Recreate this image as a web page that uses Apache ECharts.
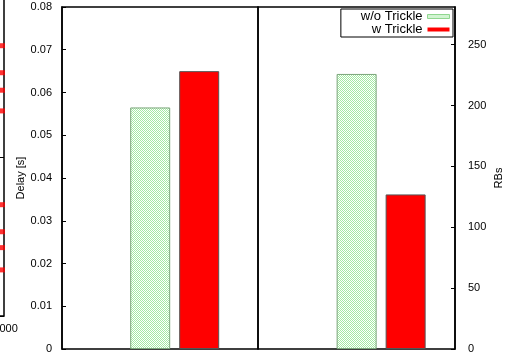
<!DOCTYPE html>
<html>
<head>
<meta charset="utf-8">
<script src="https://cdn.jsdelivr.net/npm/echarts@6/dist/echarts.min.js"></script>
<style>
  html, body { margin: 0; padding: 0; background: #fff; }
  #chart { width: 528px; height: 364px; }
</style>
</head>
<body>
<div id="chart"></div>
<script>
// ---- data ----
const seriesNames = ['w/o Trickle', 'w Trickle'];
const delaySec = [0.0565, 0.065];      // Delay [s], left panel
const rbsCount = [226, 127];           // RBs, right panel
const delayAxis = { min: 0, max: 0.08, interval: 0.01 };
const rbsAxis = { min: 0, max: 281, interval: 50 };
// edge of the neighbouring panel (points near its x = 1000 end)
const sideX = [990, 990, 990, 990, 990, 990, 990, 990];
const sideY = [1.70, 1.53, 1.42, 1.29, 0.70, 0.53, 0.43, 0.29];

// ---- styling ----
const FONT = '"Liberation Sans", Arial, Helvetica, sans-serif';
const RED = '#ff0000';

function checkerGreen() {
  const c = document.createElement('canvas');
  c.width = 4; c.height = 4;
  const g = c.getContext('2d');
  g.fillStyle = '#ffffff';
  g.fillRect(0, 0, 4, 4);
  g.fillStyle = '#a4eaa4';
  for (let y = 0; y < 4; y++) {
    for (let x = 0; x < 4; x++) {
      if ((x + y) % 2 === 0) g.fillRect(x, y, 1, 1);
    }
  }
  return c;
}
const greenFill = { image: checkerGreen(), repeat: 'repeat' };
const greenStyle = { color: greenFill, borderColor: '#7aa57a', borderWidth: 1 };
const redStyle = { color: RED, borderColor: '#555555', borderWidth: 1 };

const labelStyle = { fontFamily: FONT, fontSize: 11, color: '#000' };
const frame = { show: true, borderColor: '#000', borderWidth: 1.5, backgroundColor: 'transparent' };

const chart = echarts.init(document.getElementById('chart'), null, { renderer: 'canvas' });

chart.setOption({
  animation: false,
  backgroundColor: '#fff',
  grid: [
    Object.assign({ left: 62, top: 7, width: 196, height: 342, outerBoundsMode: 'none' }, frame),
    Object.assign({ left: 258, top: 7, width: 197, height: 342, outerBoundsMode: 'none' }, frame),
    Object.assign({ left: -200, top: -2, width: 204, height: 318, outerBoundsMode: 'none' }, frame)
  ],
  xAxis: [
    // bar groups sit at x = 0 in each panel
    { gridIndex: 0, type: 'value', min: -2.3, max: 1.7, show: false },
    { gridIndex: 1, type: 'value', min: -2.5, max: 1.5, show: false },
    {
      gridIndex: 2, type: 'value', min: 0, max: 1000, interval: 500,
      axisLine: { show: false }, axisTick: { show: false }, splitLine: { show: false },
      axisLabel: Object.assign({ margin: 7 }, labelStyle)
    }
  ],
  yAxis: [
    {
      gridIndex: 0, type: 'value', position: 'left',
      min: delayAxis.min, max: delayAxis.max, interval: delayAxis.interval,
      axisLine: { show: true, onZero: false, lineStyle: { color: '#000', width: 1.5 } },
      axisTick: { show: true, inside: true, length: 4, lineStyle: { color: '#000' } },
      axisLabel: Object.assign({ margin: 10 }, labelStyle),
      splitLine: { show: false },
      name: 'Delay [s]', nameLocation: 'middle', nameRotate: 90, nameGap: 31,
      nameTextStyle: labelStyle
    },
    {
      gridIndex: 1, type: 'value', position: 'right',
      min: rbsAxis.min, max: rbsAxis.max, interval: rbsAxis.interval,
      axisLine: { show: true, onZero: false, lineStyle: { color: '#000', width: 1.5 } },
      axisTick: { show: true, inside: true, length: 4, lineStyle: { color: '#000' } },
      axisLabel: Object.assign({ margin: 13, showMaxLabel: false }, labelStyle),
      splitLine: { show: false },
      name: 'RBs', nameLocation: 'middle', nameRotate: 90, nameGap: 38,
      nameTextStyle: labelStyle
    },
    {
      gridIndex: 2, type: 'value', position: 'right', min: 0, max: 2, interval: 1,
      axisLine: { show: false, onZero: false },
      axisTick: { show: true, inside: true, length: 4, lineStyle: { color: '#000' } },
      axisLabel: { show: false },
      splitLine: { show: false }
    }
  ],
  legend: {
    data: [
      { name: seriesNames[0], itemStyle: { borderColor: '#8fd68f', borderWidth: 1 } },
      { name: seriesNames[1], itemStyle: { borderWidth: 0 } }
    ],
    orient: 'vertical', align: 'right', icon: 'rect',
    right: 75, top: 9,
    itemWidth: 22, itemHeight: 4, itemGap: 0,
    padding: [1, 3, 1, 20],
    borderColor: '#000', borderWidth: 1,
    selectedMode: false,
    textStyle: { fontFamily: FONT, fontSize: 13, color: '#000', lineHeight: 12 }
  },
  series: [
    {
      name: seriesNames[0], type: 'bar', xAxisIndex: 0, yAxisIndex: 0,
      barWidth: 40, barGap: '22.5%', itemStyle: greenStyle,
      data: [[0, delaySec[0]]]
    },
    {
      name: seriesNames[1], type: 'bar', xAxisIndex: 0, yAxisIndex: 0,
      barWidth: 40, barGap: '22.5%', itemStyle: redStyle,
      data: [[0, delaySec[1]]]
    },
    {
      name: seriesNames[0], type: 'bar', xAxisIndex: 1, yAxisIndex: 1,
      barWidth: 40, barGap: '22.5%', itemStyle: greenStyle,
      data: [[0, rbsCount[0]]]
    },
    {
      name: seriesNames[1], type: 'bar', xAxisIndex: 1, yAxisIndex: 1,
      barWidth: 40, barGap: '22.5%', itemStyle: redStyle,
      data: [[0, rbsCount[1]]]
    },
    {
      name: 'side', type: 'scatter', xAxisIndex: 2, yAxisIndex: 2,
      symbol: 'rect', symbolSize: [6, 5],
      itemStyle: { color: RED },
      data: sideX.map((x, i) => [x, sideY[i]])
    }
  ]
});
</script>
</body>
</html>
